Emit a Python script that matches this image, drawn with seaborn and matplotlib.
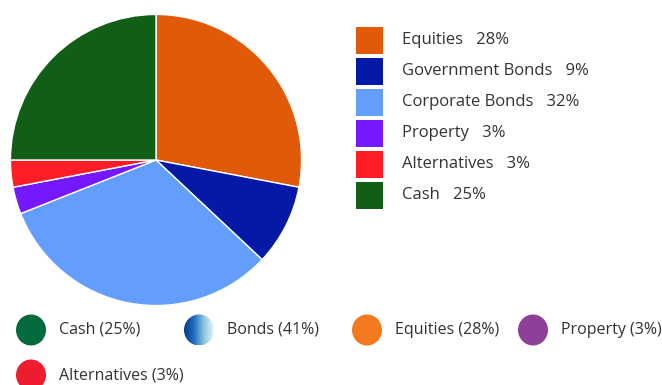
import numpy as np
import matplotlib
matplotlib.use("Agg")
import matplotlib.pyplot as plt
from matplotlib.patches import Rectangle, Ellipse
import seaborn as sns

# Asset allocation breakdown
categories = ["Equities", "Government Bonds", "Corporate Bonds", "Property", "Alternatives", "Cash"]
shares = [28, 9, 32, 3, 3, 25]
slice_colors = ["#E05A0A", "#041AA7", "#639EFF", "#7419FF", "#FF1E25", "#135E17"]

# Summary groups
group_labels = ["Cash", "Bonds", "Equities", "Property", "Alternatives"]
group_shares = [25, 41, 28, 3, 3]
group_colors = ["#026A3C", None, "#F47A20", "#8E3F97", "#ED1C2E"]

sns.set_theme(style="white")
plt.rcParams["font.family"] = ["Open Sans", "DejaVu Sans"]
text_color = "#333333"

W, H = 662, 385
fig = plt.figure(figsize=(W / 100, H / 100), dpi=100)

# Pie chart axes, placed in pixel terms
cx, cy, r = 156, 160, 147
ax = fig.add_axes([(cx - r) / W, (H - cy - r) / H, 2 * r / W, 2 * r / H])
ax.pie(shares, colors=slice_colors, startangle=90, counterclock=False, radius=1,
       wedgeprops=dict(edgecolor="white", linewidth=1.0))
ax.set_xlim(-1.01, 1.01)
ax.set_ylim(-1.01, 1.01)
ax.set_aspect("equal")
ax.axis("off")

# Overlay axes in pixel coordinates for the legends
ov = fig.add_axes([0, 0, 1, 1])
ov.set_xlim(0, W)
ov.set_ylim(H, 0)
ov.axis("off")

# Right-hand legend with square swatches
for i, (name, val, col) in enumerate(zip(categories, shares, slice_colors)):
    yc = 40 + i * 31
    ov.add_patch(Rectangle((356, yc - 13), 27, 27, facecolor=col, edgecolor="none"))
    ov.text(402, yc, f"{name}   {val}%", fontsize=12, color=text_color,
            va="center", ha="left")

# Bottom legend with round markers
positions = [(31, 330), (199, 330), (367, 330), (533, 330), (31, 375)]
for (x, y), name, val, col in zip(positions, group_labels, group_shares, group_colors):
    if col is None:
        grad = np.linspace(0, 1, 64).reshape(1, -1)
        cmap = matplotlib.colors.LinearSegmentedColormap.from_list(
            "bonds", ["#0A3C8C", "#1E6FBF", "#8FC4E0", "#E2F6F6"])
        im = ov.imshow(grad, cmap=cmap, extent=(x - 15, x + 15, y + 15.5, y - 15.5),
                       aspect="auto", zorder=2)
        clip = Ellipse((x, y), 30, 31, transform=ov.transData, facecolor="none",
                       edgecolor="none")
        ov.add_patch(clip)
        im.set_clip_path(clip)
    else:
        ov.add_patch(Ellipse((x, y), 30, 31, facecolor=col, edgecolor="none", zorder=2))
    ov.text(x + 28, y, f"{name} ({val}%)", fontsize=11.5, color=text_color,
            va="center", ha="left")

ov.set_xlim(0, W)
ov.set_ylim(H, 0)
fig.savefig("out.png", dpi=100)
